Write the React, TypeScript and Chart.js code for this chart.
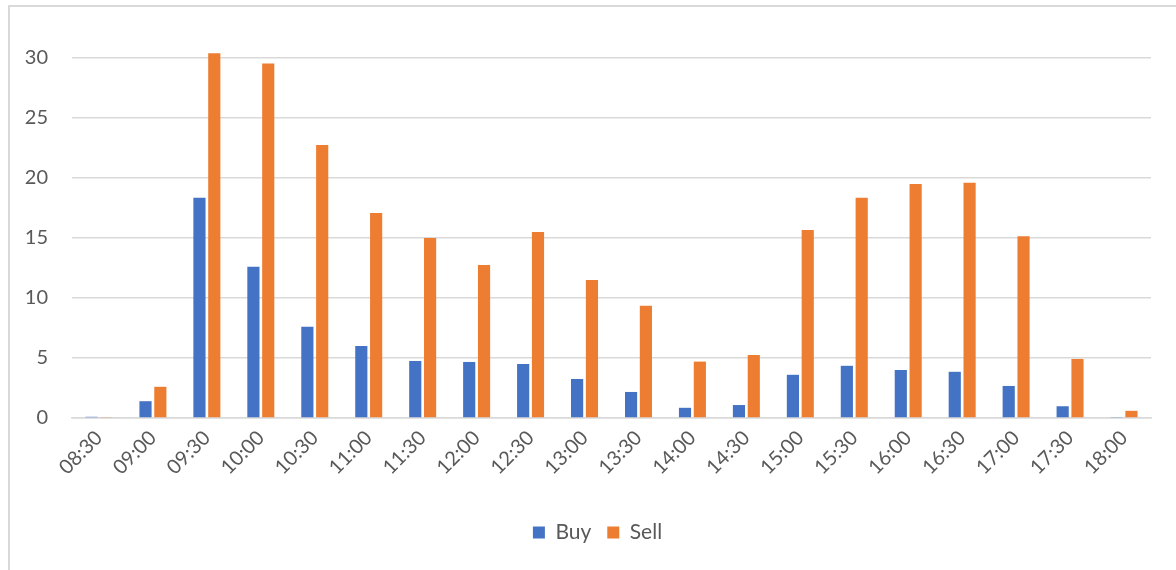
import React, { useEffect, useRef } from "react";
import { Chart, registerables } from "chart.js";

Chart.register(...registerables);

const categories = ["08:30","09:00","09:30","10:00","10:30","11:00","11:30","12:00","12:30","13:00","13:30","14:00","14:30","15:00","15:30","16:00","16:30","17:00","17:30","18:00"];
const buyValues = [0.1,1.4,18.35,12.6,7.6,6.0,4.75,4.67,4.5,3.25,2.17,0.85,1.08,3.6,4.35,4.0,3.85,2.67,0.98,0.08];
const sellValues = [0.08,2.6,30.4,29.55,22.75,17.08,15.0,12.75,15.5,11.5,9.35,4.7,5.25,15.67,18.35,19.5,19.6,15.15,4.92,0.6];
const yTicks = [0, 5, 10, 15, 20, 25, 30];

const FONT = "Lato, 'Open Sans', sans-serif";
const TEXT = "#595959";
const GRID = "#d9d9d9";

const legendShift = {
  id: "legendShift",
  afterLayout(chart: any) {
    if (chart.legend) {
      chart.legend.left += 22;
      chart.legend.right += 22;
    }
  },
};

export default function App() {
  const ref = useRef<HTMLCanvasElement | null>(null);
  useEffect(() => {
    if (!ref.current) return;
    const chart = new Chart(ref.current, {
      type: "bar",
      data: {
        labels: categories,
        datasets: [
          { label: "Buy", data: buyValues, backgroundColor: "#4472c4", borderWidth: 0, categoryPercentage: 0.55, barPercentage: 0.82 },
          { label: "Sell", data: sellValues, backgroundColor: "#ed7d31", borderWidth: 0, categoryPercentage: 0.55, barPercentage: 0.82 },
        ],
      },
      options: {
        animation: false,
        responsive: false,
        maintainAspectRatio: false,
        layout: { padding: { top: 46, right: 25, left: 0, bottom: 17 } },
        plugins: {
          tooltip: { enabled: false },
          legend: {
            position: "bottom",
            labels: { boxWidth: 12, boxHeight: 12, padding: 16, color: TEXT, font: { family: FONT, size: 21 } },
          },
        },
        scales: {
          x: {
            grid: { display: false, drawTicks: false },
            border: { display: true, color: GRID, width: 1.5 },
            ticks: { color: TEXT, font: { family: FONT, size: 20 }, minRotation: 45, maxRotation: 45, padding: 8, autoSkip: false },
            afterFit: (s: any) => { s.height = 88; },
          },
          y: {
            min: 0,
            max: 31,
            grid: { color: GRID, lineWidth: 1.5, drawTicks: false },
            border: { display: false },
            ticks: {
              stepSize: 5,
              includeBounds: false,
              padding: 24,
              color: TEXT,
              font: { family: FONT, size: 20 },
              callback: (v: any) => (yTicks.includes(Number(v)) ? String(v) : ""),
            },
            afterFit: (s: any) => { s.width = 72; },
          },
        },
      },
      plugins: [legendShift],
    });
    return () => chart.destroy();
  }, []);
  return (
    <div style={{ position: "fixed", left: 0, top: 0, width: 1176, height: 570, background: "#fff", overflow: "hidden" }}>
      <div style={{ position: "absolute", left: 8, top: 5, width: 1300, height: 700, border: "2px solid #d9d9d9", boxSizing: "border-box" }} />
      <canvas ref={ref} width={1176} height={570} style={{ position: "absolute", left: 0, top: 0 }} />
    </div>
  );
}
